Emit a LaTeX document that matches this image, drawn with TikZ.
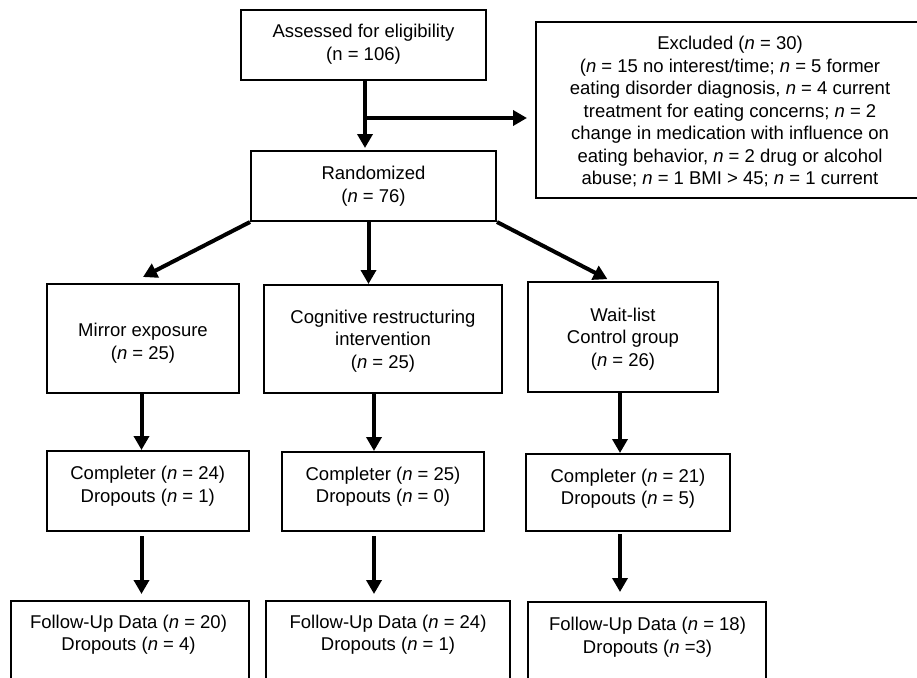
\documentclass[tikz,border=0pt]{standalone}
\usepackage{fontspec}
\setmainfont{Liberation Sans}
\usetikzlibrary{arrows.meta}
\begin{document}
\begin{tikzpicture}[x=1pt,y=-1pt,
  box/.style={draw=black,line width=2pt,inner sep=0pt,fill=none},
  txt/.style={align=center,inner sep=0pt,font=\fontsize{18.5}{22.5}\selectfont},
  arr/.style={line width=4pt,-{Triangle[length=14pt,width=15pt]}}]
\useasboundingbox (0,0) rectangle (917,677);
\clip (0,0) rectangle (917,677);
% boxes
\node[box,minimum width=245pt,minimum height=70pt] (assess) at (363.5,45) {};
\node[txt] (assesst) at (363.5,44) {Assessed for eligibility\\(n = 106)};
\node[box,minimum width=245pt,minimum height=70pt] (rand) at (373.5,186) {};
\node[txt] (randt) at (373.5,186) {Randomized\\(\textit{n} = 76)};
\node[box,minimum width=394pt,minimum height=176pt] (excl) at (733,110) {};
\node[txt] (exclt) at (730,111.5) {Excluded (\textit{n} = 30)\\(\textit{n} = 15 no interest/time; \textit{n} = 5 former\\eating disorder diagnosis, \textit{n} = 4 current\\treatment for eating concerns; \textit{n} = 2\\change in medication with influence on\\eating behavior, \textit{n} = 2 drug or alcohol\\abuse; \textit{n} = 1 BMI > 45; \textit{n} = 1 current};
\node[box,minimum width=192pt,minimum height=109pt] (mirror) at (143,338.5) {};
\node[txt] (mirrort) at (143,343) {Mirror exposure\\(\textit{n} = 25)};
\node[box,minimum width=238pt,minimum height=108pt] (cog) at (383,339) {};
\node[txt] (cogt) at (383,341) {Cognitive restructuring\\intervention\\(\textit{n} = 25)};
\node[box,minimum width=190pt,minimum height=110pt] (wait) at (623,337) {};
\node[txt] (waitt) at (623,339) {Wait-list\\Control group\\(\textit{n} = 26)};
\node[box,minimum width=201.5pt,minimum height=80pt] (comp1) at (147.75,491) {};
\node[txt] (comp1t) at (147.75,486) {Completer (\textit{n} = 24)\\Dropouts (\textit{n} = 1)};
\node[box,minimum width=202pt,minimum height=79pt] (comp2) at (383,491.5) {};
\node[txt] (comp2t) at (383,486.5) {Completer (\textit{n} = 25)\\Dropouts (\textit{n} = 0)};
\node[box,minimum width=204pt,minimum height=77pt] (comp3) at (628,492.5) {};
\node[txt] (comp3t) at (628,488.5) {Completer (\textit{n} = 21)\\Dropouts (\textit{n} = 5)};
\node[box,minimum width=238pt,minimum height=100pt] (fu1) at (129.5,651) {};
\node[txt] (fu1t) at (128.5,634.5) {Follow-Up Data (\textit{n} = 20)\\Dropouts (\textit{n} = 4)};
\node[box,minimum width=244pt,minimum height=100pt] (fu2) at (388,651) {};
\node[txt] (fu2t) at (388,634.5) {Follow-Up Data (\textit{n} = 24)\\Dropouts (\textit{n} = 1)};
\node[box,minimum width=238pt,minimum height=100pt] (fu3) at (647,652) {};
\node[txt] (fu3t) at (647.5,637) {Follow-Up Data (\textit{n} = 18)\\Dropouts (\textit{n} =3)};
% connectors
\coordinate (branch) at (365,118);
\draw[arr,shorten >=2pt] ([xshift=1.5pt]assess.south) -- ([xshift=1.5pt]assess.south |- rand.north);
\draw[line width=4pt] ([xshift=1.5pt]assess.south |- branch) -- (branch);
\draw[arr,shorten >=8pt] (branch) -- (excl.west |- branch);
\draw[arr] (rand.south west) -- ([yshift=6pt]mirror.north);
\draw[arr] ([xshift=-5pt]rand.south) -- ([xshift=-5pt]rand.south |- cog.north);
\draw[arr,shorten >=4pt] (rand.south east) -- ([xshift=-12pt]wait.north);
\draw[arr] ([xshift=-1.5pt]mirror.south) -- ([xshift=-1.5pt]mirror.south |- comp1.north);
\draw[arr] ([xshift=-9pt]cog.south) -- ([xshift=-9pt]cog.south |- comp2.north);
\draw[arr] ([xshift=-3pt]wait.south) -- ([xshift=-3pt]wait.south |- comp3.north);
\draw[arr,shorten <=4pt,shorten >=6pt] (comp1.south -| mirror.south) ++(-1.5,0) coordinate (c1s) (c1s) -- (c1s |- fu1.north);
\draw[arr,shorten <=4pt,shorten >=6pt] ([xshift=-9pt]comp2.south) -- ([xshift=-9pt]comp2.south |- fu2.north);
\draw[arr,shorten <=2pt,shorten >=9pt] ([xshift=-8pt]comp3.south) -- ([xshift=-8pt]comp3.south |- fu3.north);
\end{tikzpicture}
\end{document}
